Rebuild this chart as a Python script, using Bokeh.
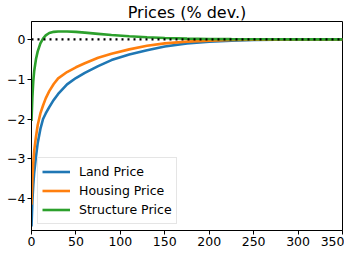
from bokeh.plotting import figure
from bokeh.models import Range1d, FixedTicker, Span, Legend, LegendItem, CustomJSTickFormatter
from bokeh.embed import file_html
from bokeh.resources import INLINE

# Horizon (periods)
t = [0, 1, 2, 3, 5, 7, 10, 13, 16, 20, 25, 30, 40, 50, 60, 75, 90, 110, 130, 150, 175, 200, 225, 250, 300, 350]

# Price responses (% deviation from steady state)
land_price = [-4.7, -4.05, -3.65, -3.35, -2.95, -2.6, -2.25, -2.0, -1.86, -1.7, -1.52, -1.37, -1.13, -0.97, -0.84,
              -0.67, -0.52, -0.38, -0.27, -0.18, -0.1, -0.055, -0.03, -0.015, -0.004, -0.001]
housing_price = [-4.15, -3.5, -3.1, -2.8, -2.45, -2.15, -1.86, -1.66, -1.48, -1.3, -1.12, -0.98, -0.82, -0.7, -0.6,
                 -0.46, -0.36, -0.25, -0.16, -0.1, -0.055, -0.03, -0.015, -0.008, -0.002, 0.0]
structure_price = [-2.05, -1.45, -1.05, -0.8, -0.5, -0.3, -0.1, 0.02, 0.1, 0.16, 0.19, 0.2, 0.2, 0.19, 0.17,
                   0.14, 0.11, 0.08, 0.055, 0.035, 0.02, 0.012, 0.007, 0.004, 0.001, 0.0]

x_ticks = [0, 50, 100, 150, 200, 250, 300, 350]
y_ticks = [-4, -3, -2, -1, 0]

FONT = "DejaVu Sans"

p = figure(width=344, height=248, output_backend="svg", toolbar_location=None,
           x_range=Range1d(0, 350), y_range=Range1d(-4.8, 0.45),
           min_border_left=31, min_border_right=2, min_border_top=0, min_border_bottom=0)

p.title.text = "Prices (% dev.)"
p.title.align = "center"
p.title.text_font = FONT
p.title.text_font_size = "16px"
p.title.text_font_style = "normal"
p.title.text_color = "black"
p.title.text_line_height = 1.0
p.title.standoff = 0

p.xgrid.visible = False
p.ygrid.visible = False
p.outline_line_color = "black"
p.outline_line_alpha = 1.0

minus_fmt = CustomJSTickFormatter(code="return String(tick).replace('-', '\u2212');")
for ax, ticks in ((p.xaxis[0], x_ticks), (p.yaxis[0], y_ticks)):
    ax.ticker = FixedTicker(ticks=ticks)
    ax.formatter = minus_fmt
    ax.major_tick_in = 0
    ax.major_tick_out = 4
    ax.minor_tick_out = 0
    ax.minor_tick_in = 0
    ax.axis_line_color = "black"
    ax.major_tick_line_color = "black"
    ax.major_label_text_font = FONT
    ax.major_label_text_font_size = "12.5px"
    ax.major_label_text_color = "black"
    ax.major_label_standoff = 2

colors = ["#1f77b4", "#ff7f0e", "#2ca02c"]
r1 = p.line(t, land_price, line_color=colors[0], line_width=2.6)
r2 = p.line(t, housing_price, line_color=colors[1], line_width=2.6)
r3 = p.line(t, structure_price, line_color=colors[2], line_width=2.6)

zero = Span(location=0, dimension="width", line_color="black", line_width=2.2, line_dash="2 4")
p.add_layout(zero)

legend = Legend(items=[LegendItem(label="Land Price", renderers=[r1]),
                       LegendItem(label="Housing Price", renderers=[r2]),
                       LegendItem(label="Structure Price", renderers=[r3])],
                location="bottom_left")
legend.margin = 6
legend.padding = 4
legend.spacing = 0
legend.glyph_width = 28
legend.glyph_height = 19
legend.label_height = 19
legend.label_standoff = 9
legend.label_text_font = FONT
legend.label_text_font_size = "12.5px"
legend.label_text_color = "black"
legend.border_line_color = "#cccccc"
legend.background_fill_alpha = 0.8
p.add_layout(legend)

open("out.html", "w").write(file_html(p, INLINE))
